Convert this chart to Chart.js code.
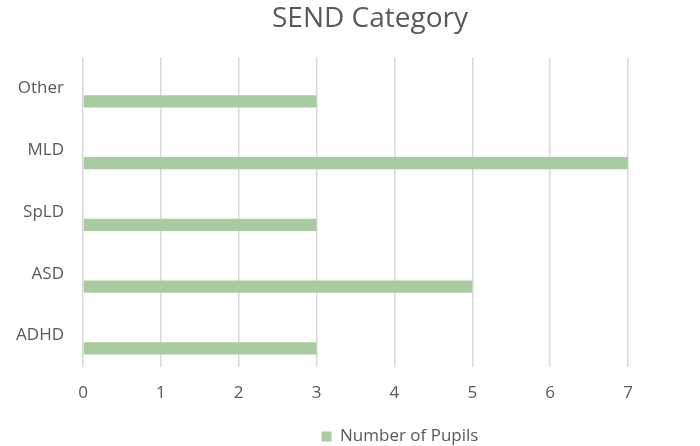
<!DOCTYPE html>
<html>
<head>
<meta charset="utf-8">
<script src="https://cdn.jsdelivr.net/npm/chart.js@4.4.1/dist/chart.umd.min.js"></script>
<style>
  html, body { margin: 0; padding: 0; background: #fff; }
  #wrap { width: 700px; height: 446px; }
</style>
</head>
<body>
<div id="wrap"><canvas id="myChart"></canvas></div>
<script>
// SEND categories, listed top to bottom as drawn
const categories = ['Other', 'MLD', 'SpLD', 'ASD', 'ADHD'];
const pupils = [3, 7, 3, 5, 3];
const xTicks = [0, 1, 2, 3, 4, 5, 6, 7];
const seriesName = 'Number of Pupils';
const chartTitle = 'SEND Category';

const grey = '#595959';
const green = '#a9cba0';
const fam = 'Open Sans';

// Excel centres title/legend a bit right of where chart.js puts them
const nudge = {
    id: 'nudge',
    afterLayout(chart) {
        const t = chart.titleBlock;
        const l = chart.legend;
        if (t) { t.left += 56; t.right += 56; }
        if (l) { l.left += 86; l.right += 86; }
    }
};

const ctx = document.getElementById('myChart').getContext('2d');
new Chart(ctx, {
    type: 'bar',
    data: {
        labels: categories,
        datasets: [{
            // empty spacer series, pushes the real bar to the lower half of each band
            label: '',
            data: categories.map(() => null),
            backgroundColor: 'rgba(0,0,0,0)'
        }, {
            label: seriesName,
            data: pupils,
            backgroundColor: green,
            borderWidth: 0
        }]
    },
    options: {
        indexAxis: 'y',
        responsive: true,
        maintainAspectRatio: false,
        animation: false,
        categoryPercentage: 0.83,
        barPercentage: 0.48,
        layout: { padding: { top: 2, right: 72, bottom: -9, left: 0 } },
        scales: {
            x: {
                min: 0,
                max: 7,
                afterBuildTicks: s => { s.ticks = xTicks.map(v => ({ value: v })); },
                afterFit: s => { s.height = 59; },
                grid: { color: '#d9d9d9', lineWidth: 1.5, drawTicks: false },
                border: { display: false },
                ticks: { color: grey, font: { family: fam, size: 17 }, padding: 16 }
            },
            y: {
                grid: { display: false, drawTicks: false },
                border: { display: false },
                afterFit: s => { s.width = 83; },
                ticks: { color: grey, font: { family: fam, size: 17 }, padding: 19 }
            }
        },
        plugins: {
            title: {
                display: true,
                text: chartTitle,
                color: grey,
                font: { family: fam, size: 28, weight: 'normal' },
                padding: { top: 0, bottom: 22 }
            },
            legend: {
                position: 'bottom',
                labels: {
                    color: grey,
                    font: { family: fam, size: 17 },
                    boxWidth: 10,
                    boxHeight: 10,
                    padding: 2.5,
                    filter: item => item.text !== ''
                }
            },
            tooltip: { enabled: false }
        }
    },
    plugins: [nudge]
});
</script>
</body>
</html>
